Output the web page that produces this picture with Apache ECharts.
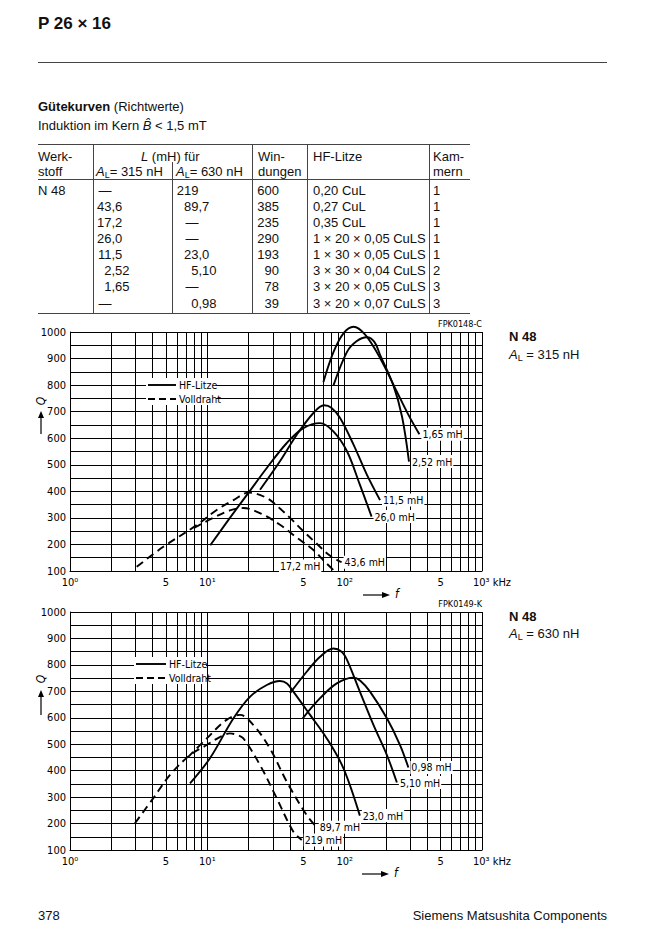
<!DOCTYPE html>
<html><head><meta charset="utf-8">
<script src="https://cdn.jsdelivr.net/npm/echarts@6/dist/echarts.min.js"></script>
<style>
html,body{margin:0;padding:0;background:#fff;}
#page{position:relative;width:650px;height:942px;overflow:hidden;font-family:"Liberation Sans",Arial,Helvetica,sans-serif;color:#111;}
#chart{position:absolute;left:0;top:0;width:650px;height:942px;}
.t{position:absolute;white-space:nowrap;font-size:13px;line-height:16px;}
.hl{position:absolute;height:0;border-top:1px solid #444;}
.vl{position:absolute;width:0;border-left:1px solid #444;}
</style></head>
<body><div id="page"><div id="chart"></div></div>
<script>
// ---------- table data ----------
const tableHeadA = ['Werk-', 'L (mH) für', 'Win-', 'HF-Litze', 'Kam-'];
const tableHeadB = ['stoff', 'A_L= 315 nH', 'A_L= 630 nH', 'dungen', 'mern'];
const tableMaterial = ['N 48', '', '', '', '', '', '', ''];
const tableL315 = ['—', '43,6', '17,2', '26,0', '11,5', '2,52', '1,65', '—'];
const tableL630 = ['219', '89,7', '—', '—', '23,0', '5,10', '—', '0,98'];
const tableTurns = ['600', '385', '235', '290', '193', '90', '78', '39'];
const tableLitze = ['0,20 CuL', '0,27 CuL', '0,35 CuL', '1 × 20 × 0,05 CuLS', '1 × 30 × 0,05 CuLS', '3 × 30 × 0,04 CuLS', '3 × 20 × 0,05 CuLS', '3 × 20 × 0,07 CuLS'];
const tableChambers = ['1', '1', '1', '1', '1', '2', '3', '3'];

// ---------- axis data ----------
const xTickValues = [1, 5, 10, 50, 100, 500, 1000];
const xTickLabels = ['10⁰', '5', '10¹', '5', '10²', '5', '10³ kHz'];
const xGridValues = [1, 2, 3, 4, 5, 6, 7, 8, 9, 10, 20, 30, 40, 50, 60, 70, 80, 90, 100, 200, 300, 400, 500, 600, 700, 800, 900, 1000];
const yMin = 100, yMax = 1000, yStep = 100;
const legendNames = ['HF-Litze', 'Volldraht'];

// ---------- chart 1: N 48, A_L = 315 nH  [f (kHz), Q] ----------
const c1_L165 = [[70, 812], [83, 925], [98, 995], [116, 1020], [141, 990], [181, 902], [239, 777], [290, 690], [350, 615]];
const c1_L252 = [[83, 800], [104, 925], [122, 965], [145, 980], [165, 962], [181, 914], [226, 800], [262, 680], [294, 512]];
const c1_L115 = [[24.2, 406], [33.8, 513], [44.8, 613], [59.2, 695], [70.8, 724], [80, 715], [92.6, 676], [116, 576], [145, 463], [181, 367]];
const c1_L260 = [[10.5, 197], [14.6, 300], [19.9, 394], [27.1, 488], [37.9, 582], [50, 638], [66.2, 657], [82.7, 626], [104, 551], [129, 425], [157, 305]];
const c1_L436 = [[3.06, 116], [4.78, 191], [8.37, 273], [11.7, 330], [15.5, 367], [20, 395], [27.1, 375], [33.8, 335], [40, 300], [50, 250], [62, 205], [78, 158], [95, 133]];
const c1_L172 = [[8, 262], [11, 300], [14.6, 328], [18.3, 337], [24.2, 318], [33.8, 274], [45, 225], [59.2, 179], [70, 140], [82.7, 104]];

// ---------- chart 2: N 48, A_L = 630 nH ----------
const c2_L510 = [[40, 693], [52.9, 774], [66.2, 831], [82.7, 862], [95, 850], [104, 819], [129, 699], [162, 573], [203, 459], [240, 355]];
const c2_L098 = [[49.5, 598], [66.2, 674], [87.6, 730], [116, 752], [130, 740], [153, 699], [203, 598], [253, 497], [291, 412]];
const c2_L230 = [[7.48, 352], [10.45, 447], [15.5, 598], [20.5, 680], [27.1, 724], [33.8, 739], [38, 730], [42.3, 699], [56, 611], [74.1, 522], [98, 409], [129, 230]];
const c2_L897 = [[7.2, 450], [9.9, 522], [13.8, 592], [17.3, 611], [21.6, 573], [28.5, 485], [37.9, 358], [52.9, 232], [62.6, 186]];
const c2_L219 = [[2.97, 201], [4.04, 296], [5.35, 384], [7.48, 459], [9.9, 497], [12.4, 528], [14.6, 541], [16.5, 535], [18.3, 522], [24.2, 421], [32, 296], [42.3, 169], [48.7, 138]];

// ---------- HTML text layer ----------
const page = document.getElementById('page');
function txt(html, x, cy, extra) {
  const d = document.createElement('div');
  d.className = 't';
  d.innerHTML = html;
  d.style.left = x + 'px';
  d.style.top = (cy - 8) + 'px';
  if (extra) Object.assign(d.style, extra);
  page.appendChild(d);
  return d;
}
function txtR(html, rightX, cy, extra) {
  const d = txt(html, 0, cy, extra);
  d.style.left = 'auto';
  d.style.right = (650 - rightX) + 'px';
  d.style.textAlign = 'right';
  return d;
}
function hline(x1, x2, y) { const d = document.createElement('div'); d.className = 'hl'; d.style.left = x1 + 'px'; d.style.width = (x2 - x1) + 'px'; d.style.top = y + 'px'; page.appendChild(d); }
function vline(x, y1, y2) { const d = document.createElement('div'); d.className = 'vl'; d.style.left = x + 'px'; d.style.top = y1 + 'px'; d.style.height = (y2 - y1) + 'px'; page.appendChild(d); }
function AL(s) { return s.replace('A_L', '<i>A</i><sub style="font-size:9px;vertical-align:-2px">L</sub>'); }

txt('<b>P 26 × 16</b>', 38, 24, {fontSize: '17px', lineHeight: '18px', top: '15px'});
hline(38, 607, 62);
txt('<b>Gütekurven</b> (Richtwerte)', 38, 107);
txt('Induktion im Kern <i>B̂</i> &lt; 1,5 mT', 38, 125, {lineHeight: '15px', top: '118px'});

// table
hline(38, 470, 144); hline(38, 470, 179); hline(38, 470, 313);
vline(93, 144, 313); vline(172, 162, 313); vline(252, 144, 313); vline(307, 144, 313); vline(429, 144, 313);
const hA = 156.5, hB = 171.5;
txt(tableHeadA[0], 38, hA); txt(tableHeadB[0], 38, hB);
txt('<i>L</i> (mH) für', 141, hA);
txt(AL(tableHeadB[1]), 96, hB); txt(AL(tableHeadB[2]), 176, hB);
txt(tableHeadA[2], 258, hA); txt(tableHeadB[3], 258, hB);
txt(tableHeadA[3], 313, hA);
txt(tableHeadA[4], 433, hA); txt(tableHeadB[4], 433, hB);
function commaCell(v, commaX, cy) {
  const i = v.indexOf(',');
  const head = i < 0 ? v : v.slice(0, i);
  const tail = i < 0 ? '' : v.slice(i);
  txtR(head, commaX, cy);
  if (tail) txt(tail, commaX, cy);
}
for (let r = 0; r < tableL315.length; r++) {
  const cy = 190.5 + r * 16.15;
  if (tableMaterial[r]) txt(tableMaterial[r], 38, cy);
  commaCell(tableL315[r], 111.5, cy);
  commaCell(tableL630[r], 198.5, cy);
  txtR(tableTurns[r], 279, cy);
  txt(tableLitze[r], 313, cy);
  txt(tableChambers[r], 433, cy);
}
// side notes
txt('<b>N 48</b>', 509, 337); txt(AL('A_L = 315 nH'), 509, 355);
txt('<b>N 48</b>', 509, 617); txt(AL('A_L = 630 nH'), 509, 634);
// footer
txt('378', 38, 916);
txtR('Siemens Matsushita Components', 607, 916);

// ---------- chart ----------
const fontCond = "'Liberation Sans Narrow','DejaVu Sans Condensed','Arial Narrow',sans-serif";
const chart = echarts.init(document.getElementById('chart'), null, {renderer: 'svg', width: 650, height: 942});

function tickLabel(v) {
  const i = xTickValues.indexOf(v);
  return i < 0 ? null : xTickLabels[i];
}
function gridSeries(ci) {
  return {
    type: 'line', xAxisIndex: ci, yAxisIndex: ci, data: [], z: 1, silent: true, animation: false,
    markLine: {
      silent: true, animation: false, symbol: ['none', 'none'],
      lineStyle: {color: '#000', width: 1, type: 'solid'},
      emphasis: {disabled: true},
      label: {position: 'start', distance: 6, color: '#000', fontSize: 11, fontFamily: fontCond},
      data: xGridValues.map(v => {
        const t = tickLabel(v);
        const item = {xAxis: v, label: t ? {show: true, formatter: t} : {show: false}};
        if (v === 1000) item.label.padding = [0, 0, 0, 20];
        return item;
      })
    }
  };
}
function curve(name, data, dashed, ci, labelExtra) {
  return {
    name, type: 'line', xAxisIndex: ci, yAxisIndex: ci, data, smooth: 0.35, symbol: 'none', clip: false,
    z: 5, animation: false, silent: true,
    lineStyle: {color: '#000', width: 1.9, type: dashed ? [8, 5] : 'solid'},
    endLabel: Object.assign({show: true, formatter: name, color: '#000', fontSize: 10.5, fontFamily: fontCond,
      backgroundColor: '#fff', padding: [1, 1], distance: 2}, labelExtra || {}),
    emphasis: {disabled: true}
  };
}
// legend drawn as graphic elements (line sample + name), with white background like the reference
function legendEls(x, y, lineLen) {
  const els = [{type: 'rect', z: 100, zlevel: 1, shape: {x: x, y: y, width: lineLen + 42, height: 27}, style: {fill: '#fff'}}];
  legendNames.forEach((nm, i) => {
    const cy = y + 7 + i * 14;
    els.push({type: 'line', z: 101, zlevel: 1, shape: {x1: x + 2, y1: cy, x2: x + 2 + lineLen, y2: cy},
      style: {stroke: '#000', lineWidth: 1.9, lineDash: i === 1 ? [7, 4] : null}});
    els.push({type: 'text', z: 101, zlevel: 1, x: x + lineLen + 5, y: cy,
      style: {text: nm, fill: '#000', fontSize: 10.5, fontFamily: fontCond, align: 'left', verticalAlign: 'middle'}});
  });
  return els;
}
function arrowUp(x, yBottom, yTop) {
  return [
    {type: 'line', shape: {x1: x, y1: yBottom, x2: x, y2: yTop + 5}, style: {stroke: '#000', lineWidth: 1.2}},
    {type: 'polygon', shape: {points: [[x - 3, yTop + 7], [x + 3, yTop + 7], [x, yTop]]}, style: {fill: '#000'}}
  ];
}
function arrowRight(xL, xR, y) {
  return [
    {type: 'line', shape: {x1: xL, y1: y, x2: xR - 5, y2: y}, style: {stroke: '#000', lineWidth: 1.2}},
    {type: 'polygon', shape: {points: [[xR - 8, y - 3], [xR - 8, y + 3], [xR, y]]}, style: {fill: '#000'}}
  ];
}
function gtext(text, x, y, opts) {
  return Object.assign({type: 'text', x, y, z: 100, style: Object.assign({text, fill: '#000', fontSize: 11, fontFamily: fontCond, align: 'left', verticalAlign: 'middle'}, (opts && opts.style) || {})}, opts && opts.rotation ? {rotation: opts.rotation} : {});
}

const axisX = ci => ({type: 'log', logBase: 10, min: 1, max: 1000, gridIndex: ci,
  axisLine: {show: true, lineStyle: {color: '#000', width: 1}}, axisTick: {show: false},
  axisLabel: {show: false}, splitLine: {show: false}});
const axisY = ci => ({type: 'value', min: yMin, max: yMax, interval: yStep, gridIndex: ci,
  axisLine: {show: true, lineStyle: {color: '#000', width: 1}}, axisTick: {show: false},
  axisLabel: {color: '#000', fontSize: 11, margin: 4, fontFamily: fontCond, formatter: v => String(v)},
  splitLine: {show: true, lineStyle: {color: '#000', width: 1}},
  minorTick: {show: false, splitNumber: 2},
  minorSplitLine: {show: true, lineStyle: {color: '#000', width: 1}}});

const option = {
  animation: false,
  grid: [{left: 70, top: 332, width: 412, height: 239}, {left: 70, top: 612, width: 412, height: 238}],
  xAxis: [axisX(0), axisX(1)],
  yAxis: [axisY(0), axisY(1)],
  series: [
    gridSeries(0), gridSeries(1),
    curve('1,65 mH', c1_L165, false, 0),
    curve('2,52 mH', c1_L252, false, 0),
    curve('11,5 mH', c1_L115, false, 0),
    curve('26,0 mH', c1_L260, false, 0),
    curve('43,6 mH', c1_L436, true, 0),
    curve('17,2 mH', c1_L172, true, 0, {align: 'right', offset: [-14, -4]}),
    curve('5,10 mH', c2_L510, false, 1),
    curve('0,98 mH', c2_L098, false, 1),
    curve('23,0 mH', c2_L230, false, 1),
    curve('89,7 mH', c2_L897, true, 1),
    curve('219 mH', c2_L219, true, 1)
  ],
  graphic: [
    ...legendEls(146, 378, 28),
    ...legendEls(134, 657, 30),
    gtext('FPK0148-C', 482, 324, {style: {align: 'right', fontSize: 9}}),
    gtext('FPK0149-K', 482, 604, {style: {align: 'right', fontSize: 9}}),
    gtext('Q', 41, 401, {rotation: Math.PI / 2, style: {align: 'center', fontStyle: 'italic', fontSize: 12}}),
    gtext('Q', 41, 679, {rotation: Math.PI / 2, style: {align: 'center', fontStyle: 'italic', fontSize: 12}}),
    ...arrowUp(41, 434, 411),
    ...arrowUp(41, 715, 690),
    ...arrowRight(363, 390, 595),
    ...arrowRight(362, 389, 874),
    gtext('f', 395, 594, {style: {fontStyle: 'italic', fontSize: 12}}),
    gtext('f', 394, 873, {style: {fontStyle: 'italic', fontSize: 12}})
  ]
};
chart.setOption(option);
</script>
</body></html>
